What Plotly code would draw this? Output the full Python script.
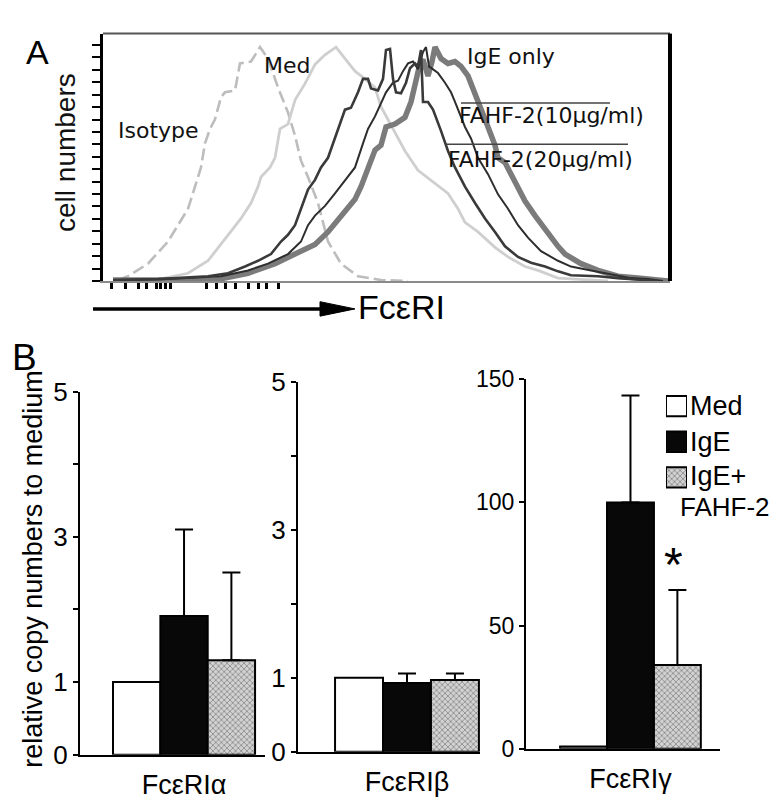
import plotly.graph_objects as go

W, H = 781, 804

# ---------------- Panel A data (fluorescence channel, cell counts) ----------------
iso_ch = [15,25,45,65,75,85,92,98,102,107,112,118,122,132,137,148,157,165,175,185,192,198,205,215,225,238,255,278,305]
iso_ct = [1,5,18,41,58,75,98,118,143,158,168,191,196,198,226,228,243,231,201,175,151,125,108,81,41,18,5,1,0]

med_ch = [52,85,105,118,128,138,148,155,158,167,172,177,185,192,202,212,222,233,242,252,
          262,272,278,285,295,302,315,328,345,355,362,375,392,405,422,435,455,505]
med_ct = [1,8,21,38,51,65,81,98,108,118,128,158,163,188,205,225,235,243,231,218,
          210,201,181,168,148,135,115,105,91,75,61,51,35,25,15,11,3,0]

f20_ch = [10,55,105,125,142,155,168,178,185,192,198,205,212,218,225,235,242,248,255,260,
          265,268,275,280,283,287,290,293,298,303,307,312,315,318,320,325,330,338,345,352,
          362,372,382,392,402,415,428,442,455,468,495,515,542,555]
f20_ct = [1,2,5,8,15,21,28,41,48,58,75,95,105,118,128,158,178,180,196,210,
          210,200,198,210,240,241,210,196,195,206,221,226,223,240,186,186,178,156,135,118,
          98,81,65,51,36,25,19,15,10,6,5,3,1,0]

f10_ch = [10,65,118,145,165,185,198,205,212,222,232,242,252,260,265,272,278,283,290,295,
          300,305,310,315,320,323,326,330,335,342,348,352,362,368,375,385,395,405,415,425,
          438,455,468,488,502,528,545,560]
f10_ct = [1,2,5,11,18,28,41,58,68,78,91,105,118,143,158,171,185,196,206,208,
          218,226,228,220,238,243,223,220,216,206,196,186,160,148,128,111,90,75,58,45,
          31,21,15,11,8,3,2,0]

ige_ch = [10,112,145,172,192,212,225,238,252,258,265,272,278,283,292,302,308,313,317,320,
          325,329,332,338,345,352,358,365,372,378,385,392,395,402,412,422,432,442,455,462,
          478,495,515,535,555,565]
ige_ct = [1,1,8,18,28,38,51,68,85,98,118,136,141,160,163,170,186,206,226,230,
          213,228,243,231,226,228,223,213,193,176,160,141,128,123,103,83,68,53,36,28,
          18,11,5,3,1,0]

a_xticks = [8,22,35,43,53,57,62,67,103,113,122,132,145,155,163,175]

# ---------------- Panel B data ----------------
genes = ["FcεRIα", "FcεRIβ", "FcεRIγ"]
groups = ["Med", "IgE", "IgE+ FAHF-2"]
med_vals = [1.0, 1.0, 1.0]
ige_vals = [1.91, 0.93, 100.0]
fahf_vals = [1.30, 0.97, 34.0]
ige_err = [1.19, 0.13, 43.4]
fahf_err = [1.21, 0.09, 30.5]

def px(x):
    return x / W

def py(y):
    return 1 - y / H

fig = go.Figure()

# Panel A traces
fig.add_trace(go.Scatter(x=iso_ch, y=iso_ct, mode="lines", xaxis="x", yaxis="y",
                         line=dict(color="#bdbdbd", width=2.6, dash="12px,5px"), showlegend=False))
fig.add_trace(go.Scatter(x=med_ch, y=med_ct, mode="lines", xaxis="x", yaxis="y",
                         line=dict(color="#cfcfcf", width=2.8), showlegend=False))
fig.add_trace(go.Scatter(x=ige_ch, y=ige_ct, mode="lines", xaxis="x", yaxis="y",
                         line=dict(color="#7b7b7b", width=5.5), showlegend=False))
fig.add_trace(go.Scatter(x=f10_ch, y=f10_ct, mode="lines", xaxis="x", yaxis="y",
                         line=dict(color="#2e2e2e", width=2.0), showlegend=False))
fig.add_trace(go.Scatter(x=f20_ch, y=f20_ct, mode="lines", xaxis="x", yaxis="y",
                         line=dict(color="#3a3a3a", width=2.6), showlegend=False))

# Panel B bars
HATCH_BG = "#d2d2d2"
pattern = dict(shape="x", size=4, fgcolor="#4a4a4a", bgcolor=HATCH_BG, solidity=0.4)
for i, g in enumerate(genes):
    xa = "x%d" % (i + 2)
    ya = "y%d" % (i + 2)
    fig.add_trace(go.Bar(x=[g], y=[med_vals[i]], xaxis=xa, yaxis=ya, name=groups[0],
                         marker=dict(color="white", line=dict(color="black", width=2)),
                         showlegend=False))
    fig.add_trace(go.Bar(x=[g], y=[ige_vals[i]], xaxis=xa, yaxis=ya, name=groups[1],
                         marker=dict(color="#080808", line=dict(color="black", width=2)),
                         error_y=dict(type="data", array=[ige_err[i]], arrayminus=[0], symmetric=False,
                                      color="black", thickness=2, width=9),
                         showlegend=False))
    fig.add_trace(go.Bar(x=[g], y=[fahf_vals[i]], xaxis=xa, yaxis=ya, name=groups[2],
                         marker=dict(color=HATCH_BG, line=dict(color="black", width=2), pattern=pattern),
                         error_y=dict(type="data", array=[fahf_err[i]], arrayminus=[0], symmetric=False,
                                      color="black", thickness=2, width=9),
                         showlegend=False))

# Legend swatches (one bar per group)
fig.add_trace(go.Bar(y=groups, x=[1, 1, 1], orientation="h", xaxis="x5", yaxis="y5", width=0.57,
                     marker=dict(color=["white", "#080808", HATCH_BG],
                                 line=dict(color="black", width=2),
                                 pattern=dict(shape=["", "", "x"], size=4, fgcolor="#4a4a4a",
                                              bgcolor=["white", "#080808", HATCH_BG], solidity=0.4)),
                     showlegend=False, hoverinfo="skip"))

lib = "Liberation Sans, Arial, sans-serif"
dv = "DejaVu Sans, Verdana, sans-serif"

layout = dict(
    width=W, height=H, margin=dict(l=0, r=0, t=0, b=0),
    paper_bgcolor="white", plot_bgcolor="white",
    barmode="group", bargap=0.2, bargroupgap=0,
    font=dict(family=lib, color="black"),
    xaxis=dict(domain=[px(95), px(662)], range=[0, 567], showgrid=False, zeroline=False,
               showline=True, linecolor="#8a8a8a", linewidth=2,
               tickvals=a_xticks, ticks="outside", ticklen=6, tickwidth=3, tickcolor="black",
               showticklabels=False),
    yaxis=dict(domain=[py(268), py(11)], range=[0, 257], showgrid=False, zeroline=False,
               showline=True, linecolor="black", linewidth=3,
               tick0=0, dtick=12.9, ticks="outside", ticklen=8, tickwidth=2, tickcolor="black",
               showticklabels=False),
)

b_x = [(72, 257, [-0.586, 0.456]), (290, 472, [-0.606, 0.406]), (518, 712, [-0.594, 0.509])]
b_y = [(383, 760, [0, 5]), (373, 757, [0, 5]), (370, 754, [0, 150])]
for i in range(3):
    x0, x1, xr = b_x[i]
    y0, y1, yr = b_y[i]
    n = i + 2
    layout["xaxis%d" % n] = dict(domain=[px(x0), px(x1)], range=xr, anchor="y%d" % n,
                                 showgrid=False, zeroline=False, showline=True,
                                 linecolor="black", linewidth=2, ticks="",
                                 tickfont=dict(family=lib, size=27, color="black"),
                                 ticklabelstandoff=5)
    if i < 2:
        yt = dict(tickvals=[0, 1, 2, 3, 4, 5], ticktext=["0", "1", "", "3", "", "5"],
                  tickfont=dict(family=lib, size=26, color="black"))
    else:
        yt = dict(tickvals=[0, 50, 100, 150], ticktext=["0", "50", "100", "150"],
                  tickfont=dict(family=lib, size=23, color="black"))
    layout["yaxis%d" % n] = dict(domain=[py(y1), py(y0)], range=yr, anchor="x%d" % n,
                                 showgrid=False, zeroline=False, showline=True,
                                 linecolor="black", linewidth=2, ticks="outside",
                                 ticklen=5, tickwidth=2, tickcolor="black", **yt)

layout["xaxis5"] = dict(domain=[px(658), px(679)], range=[0, 1], anchor="y5", visible=False)
layout["yaxis5"] = dict(domain=[py(490.5), py(379.5)], range=[2.5, -0.5], anchor="x5", visible=False,
                        type="category")

shapes = [
    # Panel A frame: top and right borders
    dict(type="line", xref="x domain", yref="y domain", x0=0, x1=1, y0=1, y1=1,
         line=dict(color="#555555", width=2)),
    dict(type="line", xref="x domain", yref="y domain", x0=1, x1=1, y0=0, y1=1,
         line=dict(color="black", width=4)),
    # label lines
    dict(type="line", xref="paper", yref="paper", x0=px(453), x1=px(602), y0=py(83), y1=py(83),
         line=dict(color="#444", width=1.5)),
    dict(type="line", xref="paper", yref="paper", x0=px(438), x1=px(620), y0=py(126), y1=py(126),
         line=dict(color="#444", width=1.5)),
    # arrow
    dict(type="line", xref="paper", yref="paper", x0=px(85), x1=px(320), y0=py(297), y1=py(297),
         line=dict(color="black", width=3.5)),
    dict(type="path", xref="paper", yref="paper",
         path="M %f %f L %f %f L %f %f Z" % (px(312), py(289.5), px(347), py(297), px(312), py(304.5)),
         fillcolor="black", line=dict(color="black", width=1)),
]
layout["shapes"] = shapes

def ann(text, x, y, size, family, xanchor="center", yanchor="middle", textangle=0, color="black"):
    return dict(text=text, x=px(x), y=py(y), xref="paper", yref="paper", showarrow=False,
                xanchor=xanchor, yanchor=yanchor, textangle=textangle, borderpad=0,
                font=dict(size=size, family=family, color=color))

annotations = [
    ann("A", 30, 30, 34, lib),
    ann("B", 16, 347, 37, lib),
    ann("cell numbers", 58, 135, 28, lib, textangle=-90, color="#111"),
    ann("FcεRI", 349, 295, 34, lib, xanchor="left"),
    ann("Isotype", 109, 112, 22, dv, xanchor="left", color="#111"),
    ann("Med", 255, 44, 22, dv, xanchor="left", color="#111"),
    ann("IgE only", 458, 35, 22, dv, xanchor="left", color="#111"),
    ann("FAHF-2(10μg/ml)", 450, 96, 22, dv, xanchor="left", color="#111"),
    ann("FAHF-2(20μg/ml)", 439, 142, 22, dv, xanchor="left", color="#111"),
    ann("relative copy numbers to medium", 25, 567, 27, lib, textangle=-90),
    ann("*", 665, 562, 48, lib),
    ann("Med", 681, 398, 27, lib, xanchor="left"),
    ann("IgE", 681, 435, 27, lib, xanchor="left"),
    ann("IgE+", 681, 471, 27, lib, xanchor="left"),
    ann("FAHF-2", 671, 503, 26, lib, xanchor="left"),
]
layout["annotations"] = annotations

fig.update_layout(**layout)
fig.write_html("out.html")
